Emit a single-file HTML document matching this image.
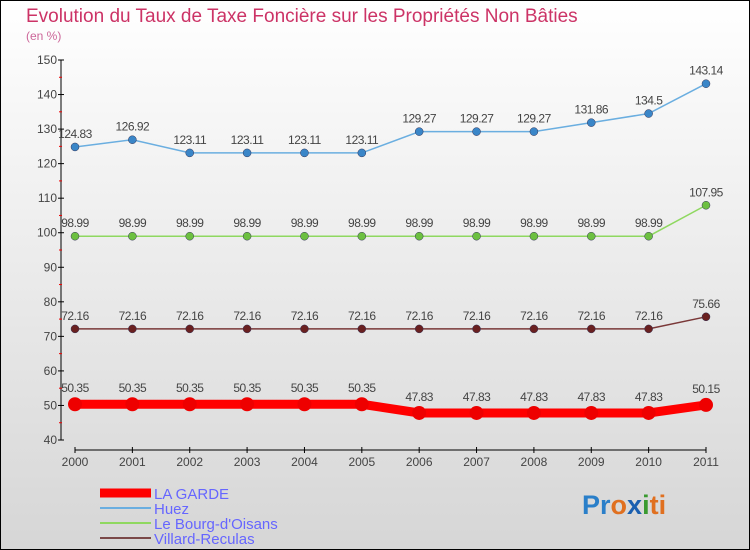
<!DOCTYPE html>
<html><head><meta charset="utf-8"><style>
body{margin:0}
svg{display:block;font-family:"Liberation Sans",sans-serif}
</style></head><body>
<svg id="chart" width="750" height="550" viewBox="0 0 750 550">
<defs><linearGradient id="bg" x1="0" y1="0" x2="0" y2="1"><stop offset="0" stop-color="#ffffff"/><stop offset="1" stop-color="#d6d6d6"/></linearGradient></defs>
<rect x="0.5" y="0.5" width="749" height="549" fill="url(#bg)" stroke="#000"/>
<text x="26" y="22" font-size="19" fill="#cc3366">Evolution du Taux de Taxe Foncière sur les Propriétés Non Bâties</text>
<text x="26" y="40" font-size="12" fill="#cc6699">(en %)</text>
<g id="axes"></g>
<g id="series"></g>
<g id="legend"></g>
<text x="582" y="514" font-size="27" font-weight="bold"><tspan fill="#2a7fc9">Pr</tspan><tspan fill="#e07020">o</tspan><tspan fill="#1a5fb0">x</tspan><tspan fill="#3a9a30">i</tspan><tspan fill="#e07020">ti</tspan></text>
</svg>
<script>
const years=["2000","2001","2002","2003","2004","2005","2006","2007","2008","2009","2010","2011"];
const yTicks=[40,50,60,70,80,90,100,110,120,130,140,150];
const laGarde=[50.35,50.35,50.35,50.35,50.35,50.35,47.83,47.83,47.83,47.83,47.83,50.15];
const huez=[124.83,126.92,123.11,123.11,123.11,123.11,129.27,129.27,129.27,131.86,134.5,143.14];
const bourg=[98.99,98.99,98.99,98.99,98.99,98.99,98.99,98.99,98.99,98.99,98.99,107.95];
const villard=[72.16,72.16,72.16,72.16,72.16,72.16,72.16,72.16,72.16,72.16,72.16,75.66];
const names=["LA GARDE","Huez","Le Bourg-d'Oisans","Villard-Reculas"];
const NS="http://www.w3.org/2000/svg";
const X=i=>75+i*(706-75)/(years.length-1);
const Y=v=>440-(v-40)*(380/110);
function mk(tag,attrs,parent){const e=document.createElementNS(NS,tag);for(const k in attrs)e.setAttribute(k,attrs[k]);parent.appendChild(e);return e;}
const ax=document.getElementById('axes');
let e=mk('line',{x1:61,y1:Y(150),x2:61,y2:Y(40),stroke:'#000'},ax);


yTicks.forEach((t,i)=>{
  mk('line',{x1:58,x2:64,y1:Y(t),y2:Y(t),stroke:'#000'},ax);
  if(i<yTicks.length-1)mk('line',{x1:59,x2:62,y1:Y(t+5),y2:Y(t+5),stroke:'#e00'},ax);
  const tx=mk('text',{x:57,y:Y(t)+4,'font-size':12,fill:'#444','text-anchor':'end'},ax);
  tx.textContent=t;
  
  
});
e=mk('line',{x1:75,y1:450,x2:706,y2:450,stroke:'#000'},ax);


years.forEach((y,i)=>{
  mk('line',{x1:X(i),x2:X(i),y1:447,y2:453,stroke:'#000'},ax);
  const tx=mk('text',{x:X(i),y:466,'font-size':12,fill:'#444','text-anchor':'middle'},ax);
  tx.textContent=y;
  
  
});
const sg=document.getElementById('series');
const defs=[[huez,'#6aaee0','#3a86c8',1.5,4,'huez'],[bourg,'#8fd860','#6cc040',1.5,4,'bourg-doisans'],[villard,'#7a3838','#6a2020',1.5,4,'villard-reculas'],[laGarde,'#ff0000','#ee0000',9,7,'la-garde']];
defs.forEach(([d,lc,pc,w,r,nm])=>{
  const g=mk('g',{},sg);
  
  
  const p=mk('polyline',{points:d.map((v,i)=>X(i)+','+Y(v)).join(' '),fill:'none',stroke:lc,'stroke-width':w},g);
  
  
  d.forEach((v,i)=>{
    const c=mk('circle',{cx:X(i),cy:Y(v),r:r,fill:pc,stroke:w>5?'none':'#335',"stroke-width":0.5},g);
    
    
    const t=mk('text',{x:X(i),y:Y(v)-(w>5?12:9),'font-size':12,fill:'#444','text-anchor':'middle','letter-spacing':'-0.5'},g);
    t.textContent=v;
    
    
  });
});
const lg=document.getElementById('legend');
const lcol=['#ff0000','#6aaee0','#8fd860','#7a4848'];
const lw=[9,2,2,2];
names.forEach((n,i)=>{
  const y=493+i*15;
  mk('line',{x1:100,x2:151,y1:y,y2:y,stroke:lcol[i],'stroke-width':lw[i]},lg);
  const t=mk('text',{x:154,y:y+6,'font-size':15,fill:'#6666ff'},lg);
  t.textContent=n;
  
  
});
</script>
</body></html>
